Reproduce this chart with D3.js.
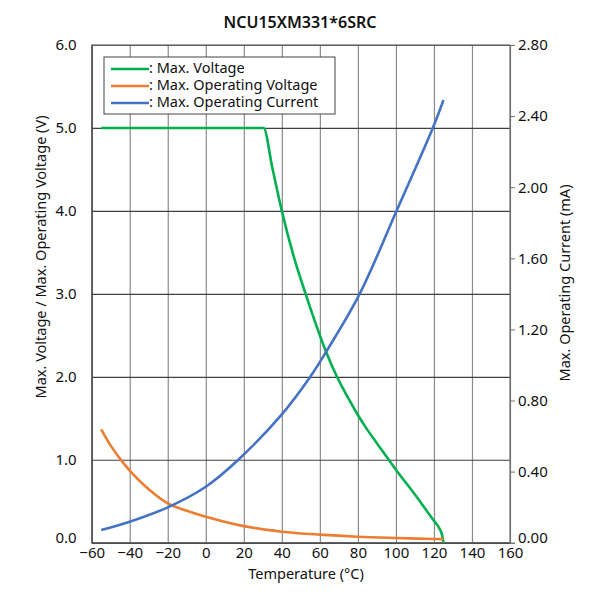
<!DOCTYPE html>
<html>
<head>
<meta charset="utf-8">
<script src="https://cdn.jsdelivr.net/npm/d3@7"></script>
<style>
  body { margin: 0; background: #fff; }
  svg { font-family: "Noto Sans", Lato, sans-serif; }
</style>
</head>
<body>
<div id="chart"></div>
<script>
const TITLE = 'NCU15XM331*6SRC';

const xTicks = [-60, -40, -20, 0, 20, 40, 60, 80, 100, 120, 140, 160];
const yTicks = [0, 1, 2, 3, 4, 5, 6];
const y2Ticks = [0, 0.4, 0.8, 1.2, 1.6, 2.0, 2.4, 2.8];

// Max. Voltage (V)
const maxVoltageT = [-55, 30.4, 35, 40, 46, 52.5, 63.3, 69, 75, 80, 85, 90, 100, 110, 119.8, 122.4, 124.3, 125];
const maxVoltage = [5.0, 5.0, 4.52, 4.0, 3.47, 3.0, 2.3, 2.0, 1.74, 1.54, 1.36, 1.2, 0.88, 0.58, 0.27, 0.19, 0.09, 0.0];

// Max. Operating Voltage (V)
const opVoltageT = [-55, -50, -45, -40, -30, -20, -10, 0, 20, 40, 60, 80, 100, 120, 125];
const opVoltage = [1.367, 1.17, 1.01, 0.87, 0.645, 0.475, 0.385, 0.314, 0.2, 0.133, 0.097, 0.072, 0.057, 0.045, 0.043];

// Max. Operating Current (mA)
const opCurrentT = [-55, -40, -20, 0, 17.1, 40, 54.6, 63.3, 80.8, 100.3, 119.4, 125];
const opCurrent = [0.071, 0.118, 0.199, 0.315, 0.467, 0.722, 0.928, 1.074, 1.397, 1.866, 2.333, 2.49];

const series = [
  { title: ': Max. Voltage', color: '#00b050', xs: maxVoltageT, ys: maxVoltage, axis: 'left', curve: d3.curveMonotoneX },
  { title: ': Max. Operating Voltage', color: '#ed7d31', xs: opVoltageT, ys: opVoltage, axis: 'left', curve: d3.curveCatmullRom.alpha(0.5) },
  { title: ': Max. Operating Current', color: '#4472c4', xs: opCurrentT, ys: opCurrent, axis: 'right', curve: d3.curveCatmullRom.alpha(0.5) },
];

const width = 600;
const height = 600;
const plotLeft = 91.7, plotRight = 510, plotTop = 45, plotBottom = 542.7;

const svg = d3.select('#chart')
  .append('svg')
  .attr('width', width)
  .attr('height', height);

const xScale = d3.scaleLinear().domain([-60, 160]).range([plotLeft, plotRight]);
const yScale = d3.scaleLinear().domain([0, 6]).range([plotBottom, plotTop]);
const y2Scale = d3.scaleLinear().domain([0, 2.8]).range([plotBottom, plotTop]);

// vertical grid
svg.append('g')
  .attr('transform', `translate(0, ${plotBottom})`)
  .call(d3.axisBottom(xScale).tickValues(xTicks).tickSize(-(plotBottom - plotTop)).tickFormat(''))
  .call(g => g.select('.domain').remove())
  .call(g => g.selectAll('line').attr('stroke', '#8a8a8a').attr('stroke-width', 1.2));

// horizontal grid
svg.append('g')
  .attr('transform', `translate(${plotLeft}, 0)`)
  .call(d3.axisLeft(yScale).tickValues(yTicks).tickSize(-(plotRight - plotLeft)).tickFormat(''))
  .call(g => g.select('.domain').remove())
  .call(g => g.selectAll('line').attr('stroke', '#404040').attr('stroke-width', 1.2));

// frame
svg.append('rect')
  .attr('x', plotLeft)
  .attr('y', plotTop)
  .attr('width', plotRight - plotLeft)
  .attr('height', plotBottom - plotTop)
  .attr('fill', 'none')
  .attr('stroke', '#707070')
  .attr('stroke-width', 1.2);

const tickFont = g => g.selectAll('text')
  .attr('font-size', 15)
  .attr('fill', '#111')
  .attr('font-family', '"Noto Sans", Lato, sans-serif');

// the zero labels sit a little above the baseline, clear of the x labels
const liftZero = g => g.selectAll('.tick')
  .filter(d => d === 0)
  .select('text')
  .attr('y', -5);

// x axis
svg.append('g')
  .attr('transform', `translate(0, ${plotBottom})`)
  .call(d3.axisBottom(xScale).tickValues(xTicks).tickSize(0).tickPadding(5).tickFormat(d3.format('d')))
  .call(g => g.select('.domain').attr('stroke', '#404040'))
  .call(tickFont);

// left axis
svg.append('g')
  .attr('transform', `translate(${plotLeft}, 0)`)
  .call(d3.axisLeft(yScale).tickValues(yTicks).tickSize(0).tickPadding(15).tickFormat(d3.format('.1f')))
  .call(g => g.select('.domain').attr('stroke', '#404040'))
  .call(tickFont)
  .call(liftZero);

// right axis
svg.append('g')
  .attr('transform', `translate(${plotRight}, 0)`)
  .call(d3.axisRight(y2Scale).tickValues(y2Ticks).tickSize(5).tickPadding(3).tickFormat(d3.format('.2f')))
  .call(g => g.select('.domain').attr('stroke', '#707070'))
  .call(g => g.selectAll('line').attr('stroke', '#707070'))
  .call(tickFont)
  .call(liftZero);

// lines
series.forEach(s => {
  const yS = s.axis === 'left' ? yScale : y2Scale;
  const path = d3.line()
    .curve(s.curve)
    .x(d => xScale(d[0]))
    .y(d => yS(d[1]));
  svg.append('path')
    .datum(d3.zip(s.xs, s.ys))
    .attr('fill', 'none')
    .attr('stroke', s.color)
    .attr('stroke-width', 2.6)
    .attr('stroke-linejoin', 'round')
    .attr('d', path);
});

// title
svg.append('text')
  .attr('x', 300)
  .attr('y', 28)
  .attr('text-anchor', 'middle')
  .attr('font-size', 16)
  .attr('font-weight', 600)
  .attr('fill', '#111')
  .text(TITLE);

// axis titles
svg.append('text')
  .attr('x', 306)
  .attr('y', 579)
  .attr('text-anchor', 'middle')
  .attr('font-size', 14.5)
  .attr('fill', '#111')
  .text('Temperature (°C)');

svg.append('text')
  .attr('transform', 'translate(46, 257) rotate(-90)')
  .attr('text-anchor', 'middle')
  .attr('font-size', 14.5)
  .attr('fill', '#111')
  .text('Max. Voltage / Max. Operating Voltage (V)');

svg.append('text')
  .attr('transform', 'translate(570, 283) rotate(-90)')
  .attr('text-anchor', 'middle')
  .attr('font-size', 14.5)
  .attr('fill', '#111')
  .text('Max. Operating Current (mA)');

// legend
const key = svg.append('g');
key.append('rect')
  .attr('x', 104)
  .attr('y', 57)
  .attr('width', 231)
  .attr('height', 57)
  .attr('fill', '#fff')
  .attr('stroke', '#444')
  .attr('stroke-width', 1);

series.forEach((s, i) => {
  const y = 69 + 17 * i;
  key.append('line')
    .attr('x1', 111)
    .attr('x2', 149)
    .attr('y1', y)
    .attr('y2', y)
    .attr('stroke', s.color)
    .attr('stroke-width', 2.6);
  key.append('text')
    .attr('x', 149)
    .attr('y', y)
    .attr('dominant-baseline', 'middle')
    .attr('font-size', 14.5)
    .attr('fill', '#111')
    .text(s.title);
});
</script>
</body>
</html>
